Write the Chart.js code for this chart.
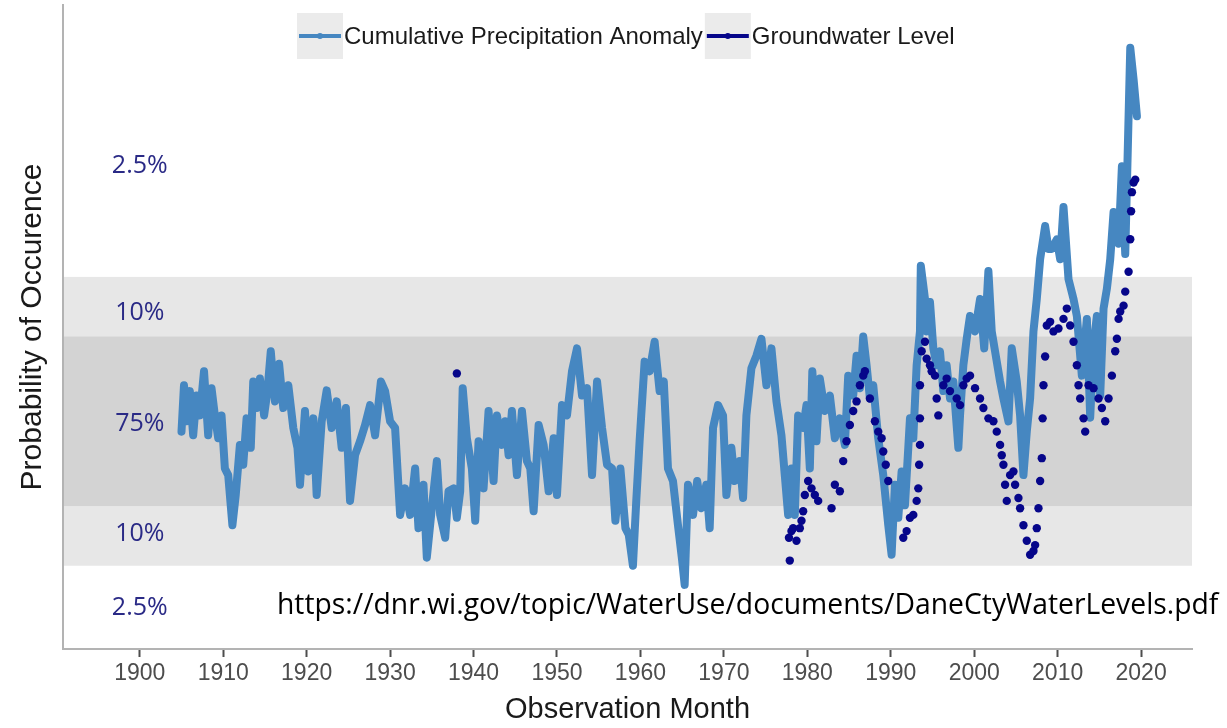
<!DOCTYPE html>
<html>
<head>
<meta charset="utf-8">
<title>Dane County precipitation and groundwater</title>
<script src="https://cdn.jsdelivr.net/npm/chart.js@4.4.1/dist/chart.umd.min.js"></script>
<style>
    html, body { margin: 0; padding: 0; background: #ffffff; }
    #wrap { position: relative; width: 1227px; height: 728px; }
</style>
</head>
<body>
<div id="wrap"><canvas id="chart"></canvas></div>
<script>
// values are standardised anomalies (z-scores)
var precipYears = [
    1905.0, 1905.3, 1905.6, 1906.0, 1906.4, 1906.8, 1907.2, 1907.7, 1908.2, 1908.6,
    1909.0, 1909.4, 1909.8, 1910.2, 1910.6, 1911.1, 1911.5, 1912.0, 1912.4, 1912.8,
    1913.3, 1913.6, 1914.0, 1914.4, 1914.9, 1915.3, 1915.7, 1916.2, 1916.7, 1917.2,
    1917.8, 1918.4, 1918.9, 1919.2, 1919.8, 1920.2, 1920.8, 1921.2, 1921.8, 1922.4,
    1923.0, 1923.6, 1924.2, 1924.7, 1925.2, 1925.8, 1926.4, 1927.0, 1927.6, 1928.2,
    1928.9, 1929.4, 1930.0, 1930.6, 1931.2, 1931.8, 1932.4, 1933.0, 1933.4, 1934.0,
    1934.4, 1935.0, 1935.6, 1936.0, 1936.6, 1937.0, 1937.6, 1938.0, 1938.4, 1938.7,
    1939.2, 1939.8, 1940.2, 1940.6, 1941.2, 1941.8, 1942.4, 1942.8, 1943.4, 1943.8,
    1944.2, 1944.6, 1945.2, 1945.8, 1946.4, 1946.8, 1947.2, 1947.8, 1948.4, 1949.0,
    1949.6, 1950.0, 1950.6, 1951.2, 1951.8, 1952.4, 1953.0, 1953.6, 1954.2, 1954.8,
    1955.4, 1956.0, 1956.6, 1957.0, 1957.6, 1958.2, 1958.6, 1959.1, 1959.5, 1959.9,
    1960.5, 1961.1, 1961.7, 1962.3, 1962.8, 1963.3, 1963.9, 1964.5, 1965.0, 1965.3,
    1965.7, 1966.3, 1966.8, 1967.3, 1967.9, 1968.3, 1968.7, 1969.3, 1969.9, 1970.3,
    1970.9, 1971.3, 1971.9, 1972.3, 1972.7, 1973.3, 1973.9, 1974.5, 1975.1, 1975.7,
    1976.3, 1976.9, 1977.3, 1977.7, 1978.1, 1978.5, 1978.9, 1979.5, 1979.9, 1980.3,
    1980.6, 1981.1, 1981.5, 1982.1, 1982.7, 1983.3, 1983.9, 1984.5, 1984.9, 1985.5,
    1985.9, 1986.3, 1986.7, 1987.1, 1987.5, 1987.9, 1988.5, 1989.1, 1989.7, 1990.1,
    1990.5, 1990.9, 1991.3, 1991.7, 1992.1, 1992.3, 1992.7, 1993.1, 1993.5, 1993.6,
    1994.1, 1994.3, 1994.7, 1995.1, 1995.5, 1995.9, 1996.3, 1996.7, 1997.1, 1997.5,
    1998.1, 1998.3, 1998.7, 1999.1, 1999.5, 2000.1, 2000.7, 2001.2, 2001.7, 2002.1,
    2002.5, 2003.1, 2003.5, 2004.1, 2004.5, 2005.1, 2005.5, 2005.9, 2006.3, 2006.7,
    2007.1, 2007.5, 2007.9, 2008.5, 2008.9, 2009.3, 2009.9, 2010.3, 2010.7, 2011.3,
    2011.9, 2012.3, 2012.9, 2013.5, 2013.9, 2014.3, 2014.7, 2015.1, 2015.5, 2015.9,
    2016.3, 2016.7, 2017.3, 2017.7, 2018.1, 2018.7, 2019.1, 2019.5
];
var precipValues = [
    -0.14, 0.49, 0.00, 0.41, -0.19, 0.35, 0.08, 0.68, -0.19, 0.45,
    0.08, -0.23, 0.08, -0.64, -0.73, -1.41, -1.00, -0.32, -0.59, 0.04,
    -0.36, 0.54, 0.18, 0.58, 0.08, 0.41, 0.95, 0.27, 0.78, 0.18,
    0.49, -0.09, -0.36, -0.86, 0.14, -0.68, 0.04, -1.00, 0.00, 0.42,
    -0.09, 0.27, -0.36, 0.18, -1.08, -0.46, -0.27, -0.05, 0.22, -0.19,
    0.54, 0.41, 0.00, -0.09, -1.27, -0.91, -1.27, -0.64, -1.45, -0.86,
    -1.85, -1.18, -0.54, -1.27, -1.58, -0.95, -0.91, -1.31, -0.95, 0.45,
    -0.23, -0.64, -1.35, -0.27, -0.91, 0.14, -0.81, 0.08, -0.32, 0.00,
    -0.46, 0.14, -0.73, 0.14, -0.54, -0.64, -1.22, -0.05, -0.32, -0.95,
    -0.23, -1.00, 0.22, 0.08, 0.68, 0.99, 0.35, 0.45, -0.73, 0.54,
    -0.09, -0.59, -0.64, -1.35, -0.64, -1.45, -1.54, -1.96, -1.08, -0.27,
    0.81, 0.68, 1.08, 0.41, 0.54, -0.64, -0.81, -1.41, -1.89, -2.22,
    -0.86, -1.27, -0.81, -1.18, -0.86, -1.45, -0.09, 0.22, 0.08, -1.00,
    -0.36, -0.81, -0.54, -1.04, 0.08, 0.72, 0.89, 1.12, 0.49, 0.99,
    0.27, -0.19, -0.73, -1.27, -0.64, -1.27, 0.08, -0.09, 0.22, -0.64,
    0.68, -0.27, 0.58, 0.14, 0.35, -0.23, 0.04, -0.32, 0.62, 0.35,
    0.89, 0.45, 1.15, 0.76, 0.31, 0.49, -0.23, -0.73, -1.41, -1.81,
    -0.86, -1.31, -0.68, -1.14, -0.36, 0.04, -0.23, 0.76, 1.22, 2.11,
    1.66, 1.22, 1.62, 0.99, 0.76, 0.95, 0.41, 0.76, 0.31, 0.54,
    -0.36, 0.08, 0.76, 1.12, 1.43, 1.22, 1.66, 0.99, 2.04, 1.22,
    0.95, 0.54, 0.31, 0.00, 0.99, 0.54, 0.08, -0.73, -0.14, 0.31,
    1.22, 1.66, 2.20, 2.65, 2.34, 2.34, 2.47, 2.20, 2.91, 1.93,
    1.66, 1.43, 0.62, 1.39, 0.05, 1.03, 1.43, 0.35, 1.53, 1.80,
    2.20, 2.84, 2.41, 3.46, 2.27, 5.07, 4.64, 4.14
];

var groundYears = [
    1938.0,
    1977.8, 1977.9, 1978.1, 1978.3, 1978.7, 1979.1, 1979.3, 1979.5, 1979.7, 1980.1,
    1980.5, 1980.9, 1981.3, 1982.9, 1983.3, 1983.9, 1984.3, 1984.7, 1985.1, 1985.5,
    1985.9, 1986.3, 1986.7, 1986.9, 1987.5, 1988.1, 1988.5, 1988.9, 1989.1, 1989.4,
    1989.7, 1991.5, 1991.9, 1992.3, 1992.7, 1993.1, 1993.3, 1993.4, 1993.5, 1993.5,
    1993.5, 1993.7, 1994.1, 1994.3, 1994.7, 1994.9, 1995.3, 1995.5, 1995.7, 1996.3,
    1996.7, 1997.1, 1997.9, 1998.3, 1998.7, 1999.1, 1999.5, 2000.1, 2000.7, 2001.1,
    2001.7, 2002.3, 2002.7, 2003.1, 2003.3, 2003.5, 2003.7, 2003.9, 2004.3, 2004.7,
    2004.9, 2005.3, 2005.5, 2005.9, 2006.3, 2006.7, 2007.1, 2007.3, 2007.5, 2007.7,
    2007.9, 2008.1, 2008.2, 2008.3, 2008.5, 2008.7, 2009.1, 2009.5, 2010.1, 2010.7,
    2011.1, 2011.5, 2011.9, 2012.3, 2012.5, 2012.7, 2013.1, 2013.3, 2013.7, 2014.3,
    2014.9, 2015.3, 2015.7, 2016.1, 2016.5, 2016.9, 2017.1, 2017.3, 2017.5, 2017.9,
    2018.1, 2018.5, 2018.7, 2018.8, 2018.9, 2019.1, 2019.3
];
var groundValues = [
    0.65,
    -1.58, -1.89, -1.49, -1.45, -1.62, -1.45, -1.35, -1.22, -1.00, -0.81,
    -0.91, -1.00, -1.08, -1.18, -0.86, -0.95, -0.54, -0.27, -0.05, 0.14,
    0.27, 0.49, 0.62, 0.68, 0.31, 0.00, -0.14, -0.23, -0.41, -0.59,
    -0.81, -1.58, -1.49, -1.31, -1.27, -1.08, -0.91, -0.59, -0.32, 0.04,
    0.49, 0.95, 1.08, 0.85, 0.76, 0.68, 0.62, 0.31, 0.08, 0.49,
    0.58, 0.41, 0.31, 0.22, 0.49, 0.58, 0.62, 0.45, 0.31, 0.18,
    0.04, 0.00, -0.14, -0.32, -0.46, -0.59, -0.86, -1.08, -0.73, -0.68,
    -0.86, -1.04, -1.18, -1.41, -1.62, -1.81, -1.76, -1.68, -1.45, -1.18,
    -0.81, -0.50, 0.04, 0.49, 0.88, 1.30, 1.35, 1.22, 1.26, 1.39,
    1.53, 1.30, 1.08, 0.76, 0.49, 0.31, 0.04, -0.14, 0.49, 0.45,
    0.31, 0.18, 0.00, 0.31, 0.62, 0.95, 1.12, 1.39, 1.49, 1.57,
    1.76, 2.03, 2.47, 2.85, 3.11, 3.24, 3.28
];

var decadeTicks = [1900, 1910, 1920, 1930, 1940, 1950, 1960, 1970, 1980, 1990, 2000, 2010, 2020];

// probability zones of a normal distribution: 75% inside +-1.15, 2.5% beyond +-1.96
var zoneBounds = [1.15, 1.96];
var zoneLabels = ['2.5%', '10%', '75%', '10%', '2.5%'];
var zoneLevels = [3.47, 1.47, -0.04, -1.53, -2.53];
var zoneLabelYear = 1900;

var sourceNote = 'https://dnr.wi.gov/topic/WaterUse/documents/DaneCtyWaterLevels.pdf';

function pairs(xs, ys) {
    return xs.map(function (x, i) { return { x: x, y: ys[i] }; });
}

var lightBlue = '#4687c1';
var navy = '#06068a';
var sans = '"Liberation Sans", Arial, sans-serif';

Chart.defaults.font.family = sans;
Chart.defaults.animation = false;

// grey probability bands and their percentage labels, under the data
var zones = {
    id: 'zones',
    beforeDatasetsDraw: function (chart) {
        var ctx = chart.ctx, a = chart.chartArea, x = chart.scales.x, y = chart.scales.y;
        var outerTop = y.getPixelForValue(zoneBounds[1]), outerBot = y.getPixelForValue(-zoneBounds[1]);
        var innerTop = y.getPixelForValue(zoneBounds[0]), innerBot = y.getPixelForValue(-zoneBounds[0]);
        ctx.save();
        ctx.fillStyle = '#e7e7e7';
        ctx.fillRect(a.left + 1, outerTop, a.right - a.left - 1, outerBot - outerTop);
        ctx.fillStyle = '#d3d3d3';
        ctx.fillRect(a.left + 1, innerTop, a.right - a.left - 1, innerBot - innerTop);
        ctx.fillStyle = '#2a2a86';
        ctx.font = '25px "Open Sans", sans-serif';
        ctx.textAlign = 'center';
        ctx.textBaseline = 'middle';
        zoneLabels.forEach(function (t, i) {
            ctx.fillText(t, x.getPixelForValue(zoneLabelYear), y.getPixelForValue(zoneLevels[i]));
        });
        ctx.restore();
    },
    afterDatasetsDraw: function (chart) {
        var ctx = chart.ctx;
        ctx.save();
        ctx.fillStyle = '#000000';
        ctx.font = '28.3px "Open Sans", sans-serif';
        ctx.textAlign = 'left';
        ctx.textBaseline = 'alphabetic';
        ctx.fillText(sourceNote, 277, 614);
        ctx.restore();
    }
};

// ggplot-style key: grey square with a line and a dot, label to its right
var keyLegend = {
    id: 'keyLegend',
    afterDraw: function (chart) {
        var ctx = chart.ctx;
        var cx = 297, top = 13, size = 46;
        ctx.save();
        ctx.font = '24px ' + sans;
        ctx.textBaseline = 'middle';
        chart.data.datasets.forEach(function (ds) {
            var col = ds.keyColor;
            ctx.fillStyle = '#ebebeb';
            ctx.fillRect(cx, top, size, size);
            ctx.strokeStyle = col;
            ctx.lineWidth = 4;
            ctx.beginPath();
            ctx.moveTo(cx + 2, top + size / 2);
            ctx.lineTo(cx + size - 2, top + size / 2);
            ctx.stroke();
            ctx.fillStyle = col;
            ctx.beginPath();
            ctx.arc(cx + size / 2, top + size / 2, 3, 0, Math.PI * 2);
            ctx.fill();
            ctx.fillStyle = '#1a1a1a';
            ctx.fillText(ds.label, cx + size + 1, top + size / 2 + 1);
            cx += size + 2 + ctx.measureText(ds.label).width + 1;
        });
        ctx.restore();
    }
};

new Chart(document.getElementById('chart'), {
    type: 'scatter',
    data: {
        datasets: [
            {
                label: 'Cumulative Precipitation Anomaly',
                data: pairs(precipYears, precipValues),
                showLine: true,
                borderColor: lightBlue,
                backgroundColor: lightBlue,
                keyColor: lightBlue,
                borderWidth: 8,
                borderJoinStyle: 'round',
                borderCapStyle: 'round',
                pointRadius: 0,
                order: 2
            },
            {
                label: 'Groundwater Level',
                data: pairs(groundYears, groundValues),
                showLine: false,
                backgroundColor: navy,
                borderColor: navy,
                keyColor: navy,
                pointRadius: 4.2,
                pointBorderWidth: 0,
                order: 1
            }
        ]
    },
    options: {
        responsive: true,
        maintainAspectRatio: false,
        layout: { padding: { top: 5, right: 35, bottom: 0, left: 6 } },
        plugins: { legend: { display: false }, tooltip: { enabled: false } },
        scales: {
            x: {
                type: 'linear',
                min: 1890.8,
                max: 2026.1,
                afterBuildTicks: function (scale) {
                    scale.ticks = decadeTicks.map(function (v) { return { value: v }; });
                },
                ticks: {
                    autoSkip: false,
                    maxRotation: 0,
                    padding: 3,
                    color: '#4d4d4d',
                    font: { size: 23 },
                    callback: function (v) { return String(v); }
                },
                grid: { drawOnChartArea: false, drawTicks: true, tickLength: 8, tickColor: '#4d4d4d', tickWidth: 2 },
                border: { display: true, color: '#b3b3b3', width: 2 },
                title: {
                    display: true,
                    text: 'Observation Month',
                    color: '#1a1a1a',
                    font: { size: 29 },
                    padding: { top: 2, bottom: 0.6 }
                }
            },
            y: {
                min: -3.09,
                max: 5.65,
                ticks: { display: false },
                grid: { display: false, drawTicks: false },
                border: { display: true, color: '#b3b3b3', width: 2 },
                title: {
                    display: true,
                    text: 'Probability of Occurence',
                    color: '#1a1a1a',
                    font: { size: 30 },
                    padding: { top: 9, bottom: 12 }
                }
            }
        }
    },
    plugins: [zones, keyLegend]
});
</script>
</body>
</html>
